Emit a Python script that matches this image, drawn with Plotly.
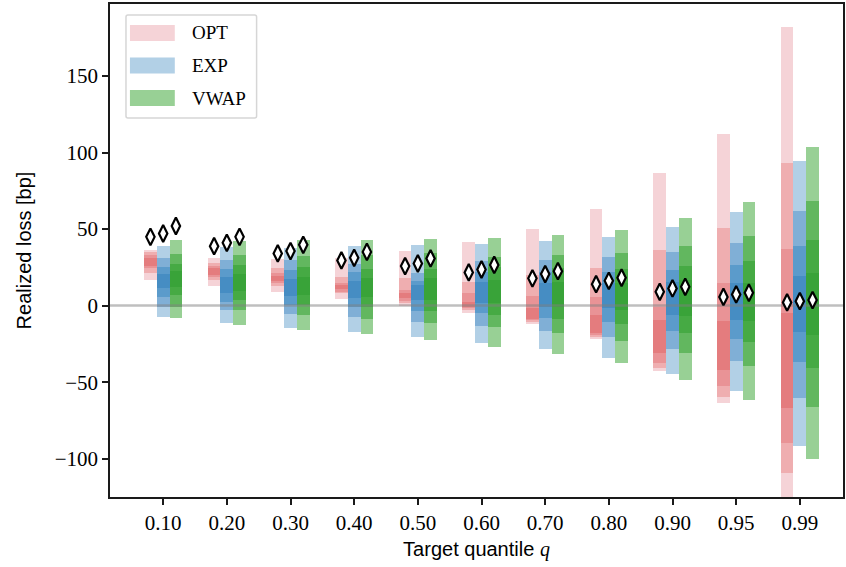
import plotly.graph_objects as go

# ---------------- data ----------------
quantiles = ["0.10", "0.20", "0.30", "0.40", "0.50", "0.60", "0.70", "0.80", "0.90", "0.95", "0.99"]
methods = ["OPT", "EXP", "VWAP"]

# letter-value box bounds, outermost level first (L1 .. L4)
opt_hi = [
    [36.2, 31.2, 30.4, 31.0, 35.6, 41.7, 49.9, 63.0, 86.7, 111.9, 182.0],
    [34.7, 27.9, 24.3, 18.8, 17.8, 15.5, 19.9, 24.7, 36.2, 50.8, 93.2],
    [33.0, 26.0, 21.0, 14.9, 10.1, 8.0, 6.4, 5.7, -0.8, 14.9, 37.1],
    [31.4, 24.3, 19.5, 13.4, 8.0, 2.1, -1.4, -6.2, -9.5, -9.9, -5.1],
]
opt_lo = [
    [16.6, 12.7, 9.0, 4.2, -0.1, -5.1, -12.3, -22.1, -42.5, -63.8, -140.0],
    [21.4, 16.6, 12.7, 8.0, 1.4, -2.9, -10.6, -20.3, -40.6, -59.5, -109.1],
    [24.3, 18.8, 14.5, 9.0, 2.9, -1.8, -9.5, -19.3, -37.3, -52.5, -90.0],
    [26.2, 19.9, 16.0, 10.8, 5.3, -1.2, -9.0, -18.2, -30.8, -42.1, -67.1],
]
exp_hi = [
    [38.8, 38.4, 37.7, 38.8, 39.5, 40.1, 42.1, 44.5, 51.2, 61.0, 94.3],
    [30.8, 29.7, 29.7, 27.5, 21.4, 29.2, 29.7, 31.9, 35.1, 41.0, 61.7],
    [25.3, 23.8, 23.2, 22.1, 16.2, 22.1, 22.1, 22.1, 23.2, 26.4, 38.8],
    [20.6, 18.4, 17.3, 16.0, 13.4, 15.5, 14.5, 14.5, 15.5, 14.5, 19.3],
]
exp_lo = [
    [-7.3, -11.2, -14.5, -17.1, -20.3, -24.3, -28.4, -34.1, -44.7, -55.6, -91.5],
    [-0.8, -2.9, -5.5, -7.7, -10.6, -13.2, -16.6, -20.3, -28.4, -36.0, -60.2],
    [5.7, 2.5, 0.3, -0.8, -3.4, -5.1, -8.4, -10.6, -16.6, -21.9, -36.7],
    [11.2, 8.4, 6.4, 5.3, 3.6, 1.4, -0.8, -1.8, -6.2, -9.5, -17.1],
]
vwap_hi = [
    [42.8, 42.1, 42.8, 42.8, 43.2, 43.9, 46.0, 49.3, 57.1, 67.6, 103.5],
    [33.6, 33.0, 32.3, 33.0, 34.1, 31.9, 33.0, 34.5, 38.8, 45.4, 68.4],
    [27.5, 26.4, 24.9, 23.8, 23.8, 25.3, 24.3, 23.8, 25.8, 29.0, 42.8],
    [22.5, 20.6, 18.4, 18.2, 17.8, 16.6, 15.5, 14.5, 16.6, 14.5, 21.4],
]
vwap_lo = [
    [-8.0, -12.7, -16.0, -18.8, -22.5, -26.9, -31.7, -37.7, -48.6, -61.7, -100.2],
    [-0.8, -2.9, -6.2, -8.8, -11.6, -14.2, -17.7, -23.0, -30.8, -39.5, -66.1],
    [6.9, 3.6, 0.3, -0.8, -3.4, -6.2, -8.8, -12.1, -17.7, -23.8, -40.6],
    [12.3, 9.7, 6.9, 5.7, 3.6, 1.4, -0.8, -2.9, -6.9, -9.9, -19.3],
]

# diamond markers
opt_marker = [44.9, 38.8, 34.1, 29.5, 25.8, 21.7, 17.8, 14.0, 9.0, 5.7, 2.1]
exp_marker = [47.1, 41.0, 35.6, 31.2, 27.5, 23.6, 20.6, 16.2, 11.2, 7.3, 2.9]
vwap_marker = [52.0, 44.9, 39.7, 35.1, 30.8, 26.6, 22.5, 18.2, 12.3, 8.4, 3.6]

# ---------------- style ----------------
shades = {
    "OPT": ["#f5d3d7", "#efaeb0", "#e99396", "#e47c7e"],
    "EXP": ["#b2d0e6", "#80afd6", "#5b9bcb", "#468dc3"],
    "VWAP": ["#98d095", "#62b75f", "#46aa44", "#39a339"],
}
offsets = {"OPT": -0.2, "EXP": 0.0, "VWAP": 0.2}
SERIF = "Liberation Serif"
SANS = "Liberation Sans"

his = {"OPT": opt_hi, "EXP": exp_hi, "VWAP": vwap_hi}
los = {"OPT": opt_lo, "EXP": exp_lo, "VWAP": vwap_lo}
marks = {"OPT": opt_marker, "EXP": exp_marker, "VWAP": vwap_marker}

idx = list(range(len(quantiles)))

fig = go.Figure()
for m in methods:
    xs = [i + offsets[m] for i in idx]
    for lev in range(4):
        hi = his[m][lev]
        lo = los[m][lev]
        fig.add_trace(go.Bar(
            x=xs, base=lo, y=[h - l for h, l in zip(hi, lo)], width=0.2,
            marker=dict(color=shades[m][lev], line=dict(width=0)),
            showlegend=False, hoverinfo="skip",
        ))

# zero reference line
fig.add_trace(go.Scatter(x=[-1, len(quantiles)], y=[0, 0], mode="lines",
                         line=dict(color="rgba(128,128,128,0.5)", width=2.5),
                         showlegend=False, hoverinfo="skip"))

for m in methods:
    fig.add_trace(go.Scatter(
        x=[i + offsets[m] for i in idx], y=marks[m], mode="markers",
        marker=dict(symbol="diamond-tall", size=12, color="white",
                    line=dict(color="black", width=2.2)),
        showlegend=False, hoverinfo="skip",
    ))

# manual legend
shapes = [dict(type="path", xref="paper", yref="paper", layer="above",
               path="M 0.0245 0.9777 L 0.1973 0.9777 Q 0.2 0.9777 0.2 0.9737 "
                    "L 0.2 0.7728 Q 0.2 0.7688 0.1973 0.7688 L 0.0245 0.7688 "
                    "Q 0.0218 0.7688 0.0218 0.7728 L 0.0218 0.9737 Q 0.0218 0.9777 0.0245 0.9777 Z",
               line=dict(color="#d6d6d6", width=1.5), fillcolor="rgba(255,255,255,0.85)")]
annotations = []
row_y = [0.9412, 0.8753, 0.8093]
for k, m in enumerate(methods):
    shapes.append(dict(type="rect", xref="paper", yref="paper", layer="above",
                       x0=0.0272, x1=0.0884, y0=row_y[k] - 0.0162, y1=row_y[k] + 0.0162,
                       fillcolor=shades[m][0], line=dict(width=0)))
    annotations.append(dict(xref="paper", yref="paper", x=0.109, y=row_y[k],
                            xanchor="left", yanchor="middle", showarrow=False,
                            text=m, font=dict(family=SERIF, size=19, color="black")))

fig.update_layout(
    width=846, height=567,
    margin=dict(l=110, r=1, t=4, b=70),
    paper_bgcolor="white", plot_bgcolor="white",
    barmode="overlay", bargap=0,
    shapes=shapes, annotations=annotations,
    showlegend=False,
)
fig.update_xaxes(
    range=[-0.835, 10.678], tickmode="array", tickvals=idx, ticktext=quantiles,
    showgrid=False, zeroline=False,
    showline=True, linecolor="#1a1a1a", linewidth=1.6, mirror=True,
    ticks="outside", ticklen=6, tickwidth=1.5, tickcolor="#1a1a1a",
    tickfont=dict(family=SERIF, size=21, color="black"),
    title=dict(text="Target quantile <span style='font-family:Liberation Serif'><i>q</i></span>",
               font=dict(family=SANS, size=20, color="black"), standoff=8),
)
fig.update_yaxes(
    range=[-125, 197], tickmode="array", tickvals=[-100, -50, 0, 50, 100, 150],
    showgrid=False, zeroline=False,
    showline=True, linecolor="#1a1a1a", linewidth=1.6, mirror=True,
    ticks="outside", ticklen=6, tickwidth=1.5, tickcolor="#1a1a1a",
    tickfont=dict(family=SERIF, size=21, color="black"),
    title=dict(text="Realized loss [bp]", font=dict(family=SANS, size=20, color="black"), standoff=18),
)

fig.write_html("out.html", config={"displayModeBar": False},
               post_script="document.body.style.margin='0';document.body.style.overflow='hidden';")
